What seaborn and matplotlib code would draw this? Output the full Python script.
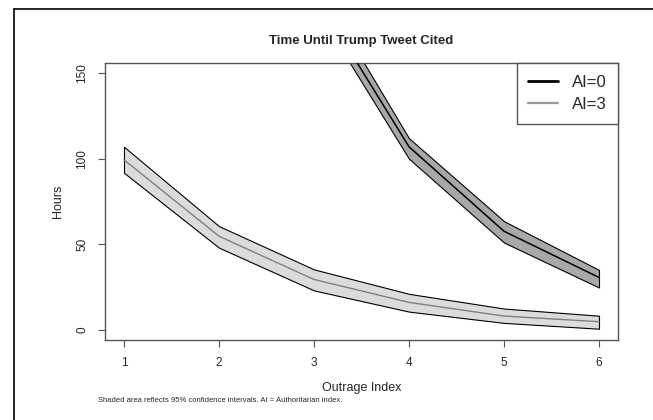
import numpy as np
import pandas as pd
import matplotlib
matplotlib.use("Agg")
from matplotlib import pyplot as plt
from matplotlib.lines import Line2D
import seaborn as sns

# outrage index values
outrage = [1, 2, 3, 4, 5, 6]

# AI=3 prediction with 95% CI
ai3_fit = [99.4, 54.7, 29.4, 16.0, 8.0, 4.7]
ai3_lo = [91.8, 48.0, 23.0, 10.6, 4.0, 0.6]
ai3_hi = [107.0, 60.6, 35.3, 21.0, 12.4, 8.2]

# AI=0 prediction (only the visible part, x >= 3)
ai0_x = [3, 4, 5, 6]
ai0_fit = [197.0, 107.0, 57.6, 30.6]
ai0_lo = [190.0, 100.0, 51.0, 24.7]
ai0_hi = [205.0, 112.0, 63.5, 35.0]

sns.set_style("ticks")
plt.rcParams['font.family'] = ['Liberation Sans', 'DejaVu Sans']

df0 = pd.DataFrame({'outrage': ai0_x, 'hours': ai0_fit})
df3 = pd.DataFrame({'outrage': outrage, 'hours': ai3_fit})

fig = plt.figure(figsize=(6.53, 4.2), dpi=100)
ax = fig.add_axes([105 / 653, 1 - 340 / 420, 513 / 653, 277 / 420])

# confidence bands
ax.fill_between(ai0_x, ai0_lo, ai0_hi, facecolor='#a8a8a8', edgecolor='black', linewidth=0.8, zorder=2)
ax.fill_between(outrage, ai3_lo, ai3_hi, facecolor='#dcdcdc', edgecolor='black', linewidth=0.8, zorder=2)

sns.lineplot(data=df0, x='outrage', y='hours', color='black', linewidth=1.1, ax=ax, zorder=3)
sns.lineplot(data=df3, x='outrage', y='hours', color='#808080', linewidth=1.0, ax=ax, zorder=3)

ax.set_xlim(0.8, 6.2)
ax.set_ylim(-6, 156)
ax.set_xticks(outrage)
ax.set_xticklabels([str(v) for v in outrage])
ax.set_yticks([0, 50, 100, 150])
ax.set_yticklabels(['0', '50', '100', '150'], rotation=90, va='center')
ax.tick_params(direction='out', length=5, width=0.8, color='#555555', labelsize=8.5, pad=7)

for s in ax.spines.values():
    s.set_visible(True)
    s.set_color('#555555')
    s.set_linewidth(1.0)

ax.set_title('Time Until Trump Tweet Cited', fontsize=9.5, fontweight='bold', pad=14)
ax.set_xlabel('Outrage Index', fontsize=9)
ax.set_ylabel('Hours', fontsize=9)
ax.xaxis.set_label_coords(0.5, -0.152)
ax.yaxis.set_label_coords(-0.08, 0.5)

handles = [Line2D([], [], color='black', linewidth=2),
           Line2D([], [], color='#999999', linewidth=1.6)]
leg = ax.legend(handles, ['AI=0', 'AI=3'], loc='upper right', bbox_to_anchor=(1, 1),
                borderaxespad=0, fancybox=False, framealpha=1, edgecolor='#555555',
                fontsize=12, handlelength=1.8, handletextpad=0.8, labelspacing=0.45,
                borderpad=0.7)
leg.get_frame().set_linewidth(1.0)

fig.text(98 / 653, 1 - 401 / 420,
         'Shaded area reflects 95% confidence intervals. AI = Authoritarian index.',
         fontsize=5.5, va='center')

# outer frame (top and left visible)
fig.add_artist(Line2D([14 / 653, 1], [1 - 9 / 420, 1 - 9 / 420], transform=fig.transFigure,
                      color='black', linewidth=1.2))
fig.add_artist(Line2D([14 / 653, 14 / 653], [0, 1 - 9 / 420], transform=fig.transFigure,
                      color='black', linewidth=1.2))

fig.savefig('out.png', dpi=100)
